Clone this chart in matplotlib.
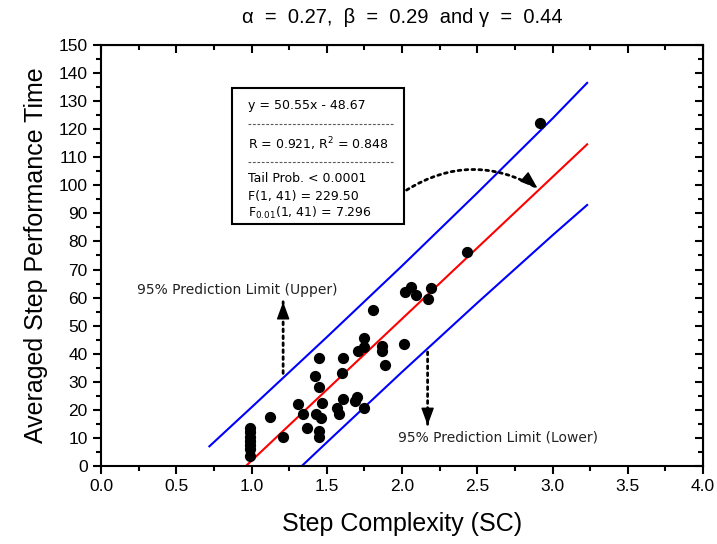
import matplotlib
matplotlib.use("Agg")
import matplotlib.pyplot as plt
from matplotlib.ticker import MultipleLocator

# step complexity vs averaged step performance time
sc = [0.99, 0.99, 0.99, 0.99, 0.99, 0.99, 0.99,
      1.12, 1.21, 1.31, 1.34, 1.37, 1.42, 1.45, 1.45, 1.47, 1.43,
      1.46, 1.45, 1.45, 1.57, 1.58, 1.61, 1.60, 1.61, 1.70, 1.69,
      1.71, 1.75, 1.75, 1.75, 1.87, 1.87, 1.89, 2.01, 1.81, 2.02,
      2.06, 2.09, 2.19, 2.17, 2.43, 2.92]
perf_time = [3.5, 6, 7.5, 9, 10.5, 12, 13.5,
             17.5, 10.5, 22, 18.5, 13.5, 32, 38.5, 28, 22.5, 18.5,
             17, 12.3, 10.3, 20.7, 18.5, 38.5, 33, 24, 24.5, 23,
             41, 42.5, 45.6, 20.7, 42.7, 41, 36, 43.5, 55.6, 62,
             63.8, 60.9, 63.4, 59.5, 76.2, 122.2]

# fitted line and 95% prediction limits
fit_x = [0.97, 3.23]
fit_y = [0.36, 114.6]
upper_x = [0.72, 1.0, 1.5, 2.0, 2.5, 3.0, 3.23]
upper_y = [7.0, 20.9, 45.9, 71.3, 97.3, 123.8, 136.5]
lower_x = [1.34, 1.5, 2.0, 2.5, 3.0, 3.23]
lower_y = [0.3, 8.4, 33.5, 58.1, 82.2, 93.0]

box_lines = ["y = 50.55x - 48.67",
             r"R = 0.921, R$^2$ = 0.848",
             "Tail Prob. < 0.0001",
             "F(1, 41) = 229.50",
             r"F$_{0.01}$(1, 41) = 7.296"]

plt.rcParams["font.family"] = ["Liberation Sans", "DejaVu Sans"]

fig = plt.figure(figsize=(7.17, 5.44), dpi=100)
ax = fig.add_axes([0.1409, 0.1434, 0.8396, 0.7739])

ax.plot(upper_x, upper_y, color="#0000ff", lw=1.5)
ax.plot(lower_x, lower_y, color="#0000ff", lw=1.5)
ax.plot(fit_x, fit_y, color="#ff0000", lw=1.5)
ax.scatter(sc, perf_time, s=50, color="black", zorder=3)

ax.set_xlim(0, 4.0)
ax.set_ylim(0, 150)
ax.xaxis.set_major_locator(MultipleLocator(0.5))
ax.xaxis.set_minor_locator(MultipleLocator(0.25))
ax.yaxis.set_major_locator(MultipleLocator(10))
ax.yaxis.set_minor_locator(MultipleLocator(5))
ax.xaxis.set_major_formatter(matplotlib.ticker.FormatStrFormatter("%.1f"))
ax.tick_params(which="major", direction="out", length=6, width=1.5, labelsize=12.5)
ax.tick_params(which="minor", direction="out", length=3.5, width=1.5)
for s in ax.spines.values():
    s.set_linewidth(1.5)

# inward ticks on top and right
top = ax.secondary_xaxis("top")
top.xaxis.set_major_locator(MultipleLocator(0.5))
top.xaxis.set_minor_locator(MultipleLocator(0.25))
top.tick_params(which="major", direction="in", length=6, width=1.5, labeltop=False)
top.tick_params(which="minor", direction="in", length=3.5, width=1.5)
right = ax.secondary_yaxis("right")
right.yaxis.set_major_locator(MultipleLocator(10))
right.yaxis.set_minor_locator(MultipleLocator(5))
right.tick_params(which="major", direction="in", length=6, width=1.5, labelright=False)
right.tick_params(which="minor", direction="in", length=3.5, width=1.5)

ax.set_xlabel("Step Complexity (SC)", fontsize=18, labelpad=13)
ax.set_ylabel("Averaged Step Performance Time", fontsize=18, labelpad=8)
fig.text(0.561, 0.967, "\u03b1  =  0.27,  \u03b2  =  0.29  and \u03b3  =  0.44",
         ha="center", va="center", fontsize=14.5)

# statistics box
ax.add_patch(plt.Rectangle((0.218, 0.575), 0.285, 0.323, transform=ax.transAxes,
                           fill=False, lw=1.5, color="black"))
txt_y = [0.857, 0.765, 0.684, 0.641, 0.601]
for line, yy in zip(box_lines, txt_y):
    ax.text(0.244, yy, line, transform=ax.transAxes, fontsize=9,
            family="DejaVu Sans", va="center")
for yy in [0.812, 0.722]:
    ax.plot([0.244, 0.487], [yy, yy], transform=ax.transAxes, color="0.35",
            lw=0.8, ls=(0, (2.5, 1.5)))

# dotted shafts, solid heads drawn on top
shaft = dict(arrowstyle="-", color="black", lw=2, ls=(0, (1, 1.5)),
             shrinkA=0, shrinkB=0)
head = dict(arrowstyle="-|>,head_length=0.9,head_width=0.33", color="black",
            lw=1, mutation_scale=12, shrinkA=0, shrinkB=0)

ax.annotate("", xy=(2.9, 99), xytext=(2.03, 98.3),
            arrowprops=dict(shaft, connectionstyle="arc3,rad=-0.3"))
ax.annotate("", xy=(2.9, 99), xytext=(2.85, 101.3), arrowprops=head)

ax.annotate("", xy=(1.21, 58.5), xytext=(1.21, 33), arrowprops=shaft)
ax.annotate("", xy=(1.21, 58.5), xytext=(1.21, 55), arrowprops=head)

ax.annotate("", xy=(2.17, 14.5), xytext=(2.17, 40.6), arrowprops=shaft)
ax.annotate("", xy=(2.17, 14.5), xytext=(2.17, 18), arrowprops=head)

ax.text(0.24, 62.7, "95% Prediction Limit (Upper)", fontsize=10,
        family="DejaVu Sans", color="#222222", va="center")
ax.text(1.97, 10.3, "95% Prediction Limit (Lower)", fontsize=10,
        family="DejaVu Sans", color="#222222", va="center")

fig.savefig("out.png", dpi=100)
